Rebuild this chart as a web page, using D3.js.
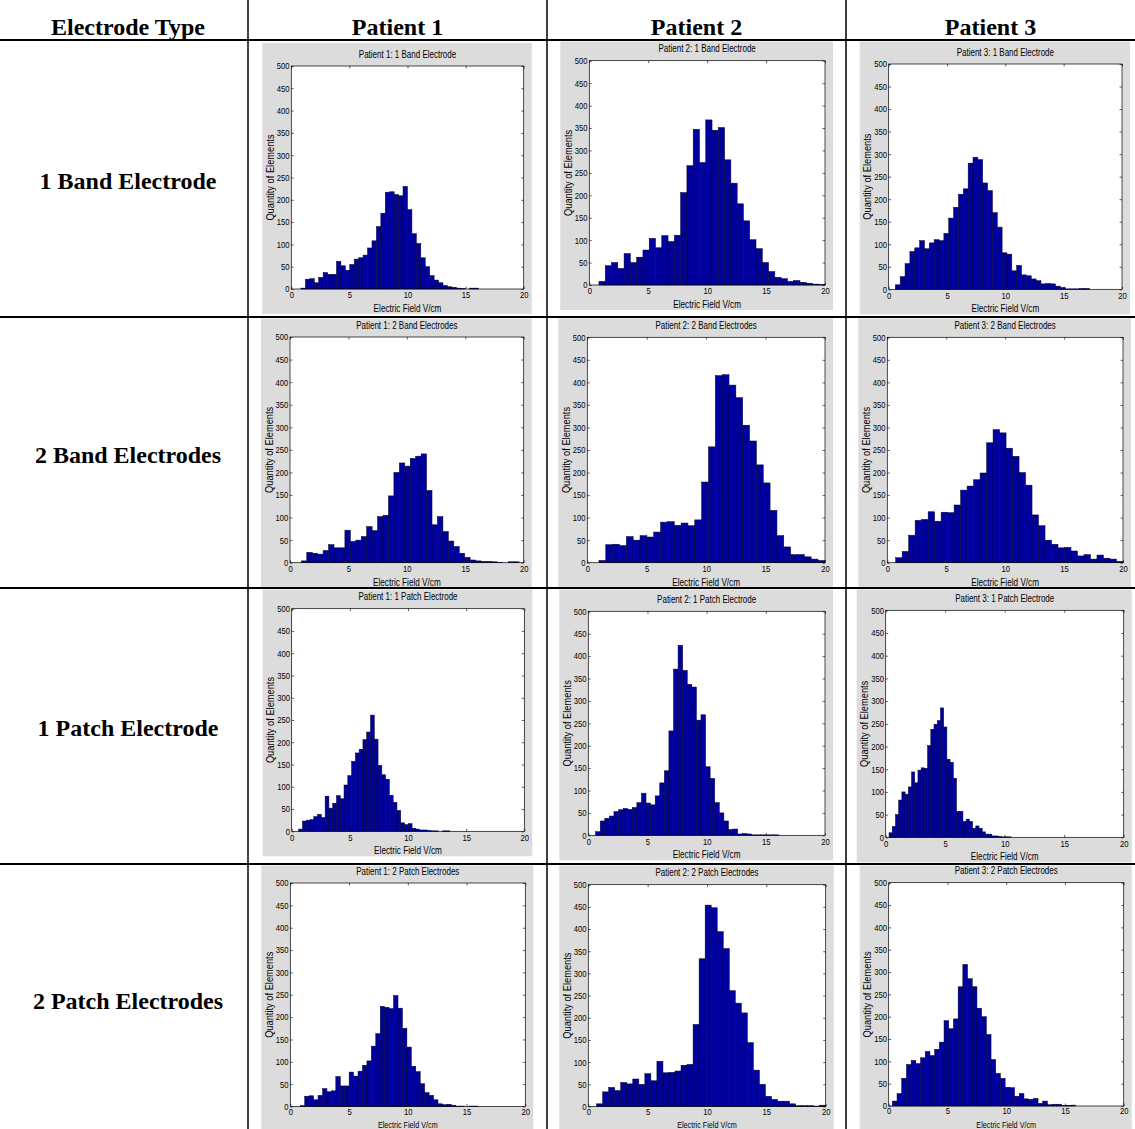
<!DOCTYPE html>
<html><head><meta charset="utf-8">
<script src="https://cdn.jsdelivr.net/npm/d3@7"></script>
<style>
body{margin:0;background:#fff}
svg{display:block}
.hdr{font-family:"Liberation Serif","Times New Roman",serif;font-weight:bold;font-size:24px;fill:#000}
.small{font-family:"Liberation Sans Narrow","Arial Narrow","Liberation Sans",Arial,sans-serif;fill:#000}
</style>
</head><body>
<svg id="c" width="1135" height="1129"></svg>
<script>
// ---------------- data ----------------
const patients = ["Patient 1", "Patient 2", "Patient 3"];
const electrodeTypes = ["1 Band Electrode", "2 Band Electrodes", "1 Patch Electrode", "2 Patch Electrodes"];
const panelTitleTypes = ["1 Band Electrode", "2 Band Electrodes", "1 Patch Electrode", "2 Patch Electrodes"];
const xTicks = [0, 5, 10, 15, 20];
const yTicks = [0, 50, 100, 150, 200, 250, 300, 350, 400, 450, 500];
const xLabel = "Electric Field V/cm";
const yLabel = "Quantity of Elements";

// histogram counts per patient / electrode type
const p1Band1 = [2,22,23,14,26,37,33,33,62,52,42,55,67,70,76,92,108,140,170,217,218,212,209,230,178,124,102,70,50,30,20,14,8,5,4,2,1,0,2,2];
const p2Band1 = [8,43,50,37,70,50,62,78,104,83,110,97,111,206,266,347,273,368,345,351,279,227,181,143,101,81,50,30,17,14,8,10,6,4,2,1];
const p3Band1 = [10,28,57,84,92,108,90,103,110,108,124,158,182,211,223,280,293,288,236,219,170,138,81,78,41,53,32,30,23,19,12,13,12,7,4,1,1,1,2,2];
const p1Band2 = [4,23,21,19,27,40,33,33,72,47,50,58,80,71,102,105,148,200,221,214,231,236,241,160,84,102,69,48,36,21,12,6,4,3,3,2,1,0,2,2];
const p2Band2 = [5,40,41,38,58,50,60,57,68,90,91,83,88,82,95,179,257,415,417,394,366,305,270,217,177,116,60,35,18,18,13,8,5];
const p3Band2 = [11,25,61,94,96,113,92,112,111,128,161,170,184,199,266,295,288,254,236,200,172,106,82,50,41,33,34,26,15,18,8,17,10,8,3];
const p1Patch1 = [5,23,25,26,33,38,31,79,52,63,80,73,104,125,157,176,184,206,223,261,207,148,127,117,81,65,47,19,15,17,7,5,3,3,2,1,1,0,1,1];
const p2Patch1 = [8,32,38,43,53,57,60,58,62,73,94,72,68,88,117,144,233,371,424,368,337,331,257,269,153,127,73,50,32,13,14,3,4,3,1,1,1,1,1,1];
const p3Patch1 = [10,24,50,82,100,95,111,144,120,148,153,152,202,238,249,257,285,243,172,165,130,57,57,35,40,35,20,25,20,12,7,7,3,3,2,1,1,1];
const p1Patch2 = [2,23,24,15,25,40,33,35,67,46,46,77,68,79,92,102,135,163,224,222,219,248,220,175,133,90,78,51,31,25,15,6,4,5,3,1,1,0,1,1];
const p2Patch2 = [6,33,43,36,54,51,62,50,74,58,102,76,77,80,93,95,185,333,454,448,394,356,261,233,211,144,82,50,23,16,12,12,6,2,2,2,1,3];
const p3Patch2 = [11,28,62,93,102,95,108,122,113,127,143,191,173,195,267,317,285,267,219,200,160,104,73,62,42,41,22,28,16,15,17,6,11,3,4,4,1,1,2,0];

// bin start and bin width of each histogram (V/cm), rows = electrode type, cols = patient
const binStarts = [
  [0.83, 0.82, 0.57],
  [0.97, 0.98, 0.71],
  [0.60, 0.62, 0.28],
  [0.85, 0.70, 0.31]
];
const binWidths = [
  [0.382, 0.533, 0.416],
  [0.466, 0.576, 0.551],
  [0.325, 0.387, 0.270],
  [0.378, 0.508, 0.400]
];
const countsGrid = [
  [p1Band1, p2Band1, p3Band1],
  [p1Band2, p2Band2, p3Band2],
  [p1Patch1, p2Patch1, p3Patch1],
  [p1Patch2, p2Patch2, p3Patch2]
];

// ---------------- layout ----------------
const W = 1135, H = 1129;
const colEdges = [0, 248, 547, 846, 1135];
const rowEdges = [0, 40, 317, 588, 864, 1129];
// axes boxes [left, right, top, bottom] per panel
const axesBoxes = [
  [[291.3, 523.7, 66.0, 289.0], [589.3, 825.0, 60.7, 285.0], [888.7, 1122.0, 64.0, 289.3]],
  [[290.0, 523.7, 337.0, 562.7], [587.3, 825.0, 337.3, 562.7], [887.3, 1123.0, 337.3, 562.7]],
  [[291.7, 524.3, 608.7, 831.3], [588.3, 825.0, 611.3, 835.3], [885.7, 1123.7, 610.3, 837.3]],
  [[290.3, 525.3, 883.0, 1106.5], [588.3, 825.7, 884.7, 1106.5], [888.7, 1123.7, 882.7, 1106.0]]
];

const svg = d3.select("#c");
svg.append("rect").attr("width", W).attr("height", H).attr("fill", "#fff");

const gPanels = svg.append("g");
const gGrid = svg.append("g");

function narrowText(parent, x, y, size, sx, str, rotate) {
  return parent.append("text").attr("class", "small").attr("font-size", size)
    .attr("transform", `translate(${x},${y})${rotate ? " rotate(-90)" : ""} scale(${sx},1)`)
    .attr("dy", "0.35em").attr("text-anchor", "middle").text(str);
}

// ---------------- panels ----------------
countsGrid.forEach((row, r) => {
  row.forEach((counts, c) => {
    const [L, R, T, B] = axesBoxes[r][c];
    const x = d3.scaleLinear().domain([0, 20]).range([L, R]);
    const y = d3.scaleLinear().domain([0, 500]).range([B, T]);
    const g = gPanels.append("g");

    // figure background (clipped to the table cell)
    const cx0 = colEdges[c + 1] + 1.5, cx1 = colEdges[c + 2] - 1.5;
    const cy0 = rowEdges[r + 1] + 1.5;
    const gx0 = Math.max(cx0, L - 29), gx1 = Math.min(cx1, R + 8);
    const gy0 = Math.max(cy0, T - 23), gy1 = Math.min(H, B + 25);
    g.append("rect").attr("x", gx0).attr("y", gy0).attr("width", gx1 - gx0).attr("height", gy1 - gy0)
      .attr("fill", "#dcdcdc");

    // axes area
    g.append("rect").attr("x", L).attr("y", T).attr("width", R - L).attr("height", B - T).attr("fill", "#fff");

    // bars
    const start = binStarts[r][c], bw = binWidths[r][c];
    const bins = counts.map((v, i) => ({x0: start + i * bw, x1: start + (i + 1) * bw, v}));
    g.append("g").selectAll("rect").data(bins).join("rect")
      .attr("x", d => x(d.x0))
      .attr("width", d => x(d.x1) - x(d.x0))
      .attr("y", d => y(d.v))
      .attr("height", d => y(0) - y(d.v))
      .attr("fill", "#00009c")
      .attr("stroke", "#000033")
      .attr("stroke-width", 0.5);

    // axes
    g.append("g").attr("transform", `translate(0,${B})`)
      .call(d3.axisBottom(x).tickValues(xTicks).tickSizeInner(-2.5).tickSizeOuter(0).tickPadding(r === 3 ? 2 : 3));
    g.append("g").attr("transform", `translate(${L},0)`)
      .call(d3.axisLeft(y).tickValues(yTicks).tickSizeInner(-2.5).tickSizeOuter(0).tickPadding(2));
    g.append("g").attr("transform", `translate(0,${T})`)
      .call(d3.axisTop(x).tickValues(xTicks).tickSizeInner(-2.5).tickSizeOuter(0).tickFormat(""));
    g.append("g").attr("transform", `translate(${R},0)`)
      .call(d3.axisRight(y).tickValues(yTicks).tickSizeInner(-2.5).tickSizeOuter(0).tickFormat(""));
    g.selectAll(".domain").remove();
    g.selectAll(".tick line").attr("stroke", "#000").attr("stroke-width", 0.6);
    g.selectAll(".tick text").attr("class", "small").attr("font-size", 9)
      .attr("font-family", null).attr("transform", "scale(0.85,1)");

    g.append("rect").attr("x", L).attr("y", T).attr("width", R - L).attr("height", B - T)
      .attr("fill", "none").attr("stroke", "#000").attr("stroke-width", 0.7);

    // labels
    narrowText(g, (L + R) / 2, T - 12, 10, 0.8, `${patients[c]}: ${panelTitleTypes[r]}`);
    if (r === 3) {
      narrowText(g, (L + R) / 2, H - 4, 8.5, 0.85, xLabel);
    } else {
      narrowText(g, (L + R) / 2, B + 19.5, 10, 0.82, xLabel);
    }
    narrowText(g, L - 21, (T + B) / 2, 10, 0.93, yLabel, true);
  });
});

// ---------------- table grid and headers ----------------
[248, 547, 846].forEach(xv => {
  gGrid.append("line").attr("x1", xv).attr("x2", xv).attr("y1", 0).attr("y2", H)
    .attr("stroke", "#000").attr("stroke-width", 1.5);
});
[40, 317, 588, 864].forEach(yv => {
  gGrid.append("line").attr("x1", 0).attr("x2", W).attr("y1", yv).attr("y2", yv)
    .attr("stroke", "#000").attr("stroke-width", 2);
});

const headers = ["Electrode Type"].concat(patients);
headers.forEach((h, i) => {
  gGrid.append("text").attr("class", "hdr")
    .attr("x", (colEdges[i] + colEdges[i + 1]) / 2 + (i === 0 ? 4 : 0))
    .attr("y", 27).attr("dy", "0.35em").attr("text-anchor", "middle").text(h);
});
electrodeTypes.forEach((t, r) => {
  gGrid.append("text").attr("class", "hdr")
    .attr("x", 128).attr("y", [181, 455, 728, 1001][r]).attr("dy", "0.35em")
    .attr("text-anchor", "middle").text(t);
});
</script>
</body></html>
